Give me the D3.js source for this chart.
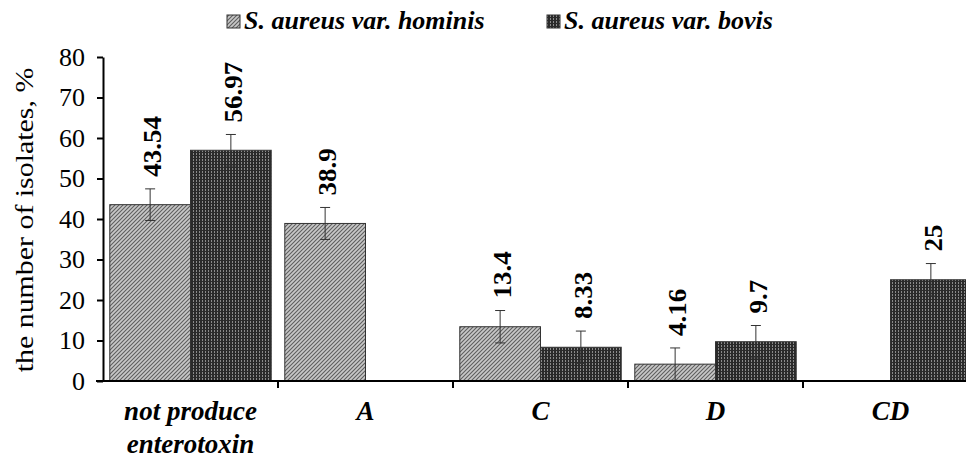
<!DOCTYPE html>
<html>
<head>
<meta charset="utf-8">
<script src="https://cdn.jsdelivr.net/npm/d3@7"></script>
<style>
  html, body { margin: 0; padding: 0; background: #fff; }
  svg { display: block; }
</style>
</head>
<body>
<svg id="chart" width="966" height="458"></svg>
<script>
const categories = ["not produce|enterotoxin", "A", "C", "D", "CD"];
const seriesNames = ["S. aureus var. hominis", "S. aureus var. bovis"];
const hominis = [43.54, 38.9, 13.4, 4.16, null];
const bovis = [56.97, null, 8.33, 9.7, 25];
const hominisErr = [3.9, 3.95, 4.0, 4.0, null];
const bovisErr = [3.9, null, 4.0, 4.0, 4.0];
const hominisLabels = ["43.54", "38.9", "13.4", "4.16", null];
const bovisLabels = ["56.97", null, "8.33", "9.7", "25"];
const yTicks = [0, 10, 20, 30, 40, 50, 60, 70, 80];

const FONT = '"Liberation Serif"';
const svg = d3.select("#chart");
const defs = svg.append("defs");

const p1 = defs.append("pattern").attr("id", "patH").attr("patternUnits", "userSpaceOnUse")
  .attr("width", 4).attr("height", 4);
p1.append("rect").attr("width", 4).attr("height", 4).attr("fill", "#c8c8c8");
p1.append("path").attr("d", "M0,4 L4,0 M-1,1 L1,-1 M3,5 L5,3").attr("stroke", "#5e5e5e").attr("stroke-width", 1.1);
const p2 = defs.append("pattern").attr("id", "patB").attr("patternUnits", "userSpaceOnUse")
  .attr("width", 3).attr("height", 3);
p2.append("rect").attr("width", 3).attr("height", 3).attr("fill", "#2a2a2a");
p2.append("rect").attr("x", 1).attr("y", 0).attr("width", 1).attr("height", 2).attr("fill", "#8a8a8a");

const x0 = 103, xEnd = 978;
const y = d3.scaleLinear().domain([0, 80]).range([381, 57]);
const x = d3.scaleBand().domain(categories).range([x0, xEnd]).paddingInner(0).paddingOuter(0);
const xs = d3.scaleBand().domain(seriesNames).range([0, x.bandwidth()]).paddingOuter(0.084).paddingInner(0);

const fills = ["url(#patH)", "url(#patB)"];
const vals = [hominis, bovis];
const errs = [hominisErr, bovisErr];
const labs = [hominisLabels, bovisLabels];

seriesNames.forEach((s, si) => {
  const g = svg.append("g");
  categories.forEach((c, ci) => {
    const v = vals[si][ci];
    if (v == null) return;
    const bx = x(c) + xs(s);
    const bw = xs.bandwidth();
    g.append("rect").attr("x", bx).attr("y", y(v)).attr("width", bw).attr("height", y(0) - y(v))
      .attr("fill", fills[si]).attr("stroke", "#333").attr("stroke-width", 1);
    const e = errs[si][ci];
    const cx = bx + bw / 2;
    const top = y(v + e), bot = y(Math.max(0, v - e));
    g.append("line").attr("x1", cx).attr("x2", cx).attr("y1", top).attr("y2", bot).attr("stroke", "#333").attr("stroke-width", 1);
    g.append("line").attr("x1", cx - 5).attr("x2", cx + 5).attr("y1", top).attr("y2", top).attr("stroke", "#333").attr("stroke-width", 1);
    g.append("line").attr("x1", cx - 5).attr("x2", cx + 5).attr("y1", bot).attr("y2", bot).attr("stroke", "#333").attr("stroke-width", 1);
    const lx = cx + 11, ly = top - 12;
    g.append("text").attr("transform", `translate(${lx},${ly}) rotate(-90) scale(1.04,1)`)
      .attr("text-anchor", "start").attr("font-size", 26).attr("font-weight", "bold")
      .style("font-family", FONT)
      .text(labs[si][ci]);
  });
});

const yAxis = d3.axisLeft(y).tickValues(yTicks).tickSize(6).tickPadding(12).tickSizeOuter(0);
const ya = svg.append("g").attr("transform", `translate(${x0},0)`).call(yAxis);
ya.select(".domain").attr("stroke", "#000").attr("stroke-width", 2);
ya.selectAll(".tick line").attr("stroke", "#000").attr("stroke-width", 2);
ya.selectAll(".tick text").attr("font-size", 26).style("font-family", FONT).attr("fill", "#000");

svg.append("line").attr("x1", 96).attr("x2", 966).attr("y1", y(0)).attr("y2", y(0)).attr("stroke", "#000").attr("stroke-width", 2);
const boundaries = categories.map(c => x(c)).concat([x(categories[categories.length - 1]) + x.bandwidth()]);
svg.append("g").selectAll("line").data(boundaries.slice(1)).join("line")
  .attr("x1", d => d).attr("x2", d => d).attr("y1", y(0)).attr("y2", y(0) + 7)
  .attr("stroke", "#000").attr("stroke-width", 2);

categories.forEach(c => {
  const lines = c.split("|");
  const t = svg.append("text").attr("x", x(c) + x.bandwidth() / 2).attr("y", 420)
    .attr("text-anchor", "middle").attr("font-size", 27).attr("font-style", "italic").attr("font-weight", "bold")
    .style("font-family", FONT);
  lines.forEach((l, i) => t.append("tspan").attr("x", x(c) + x.bandwidth() / 2).attr("dy", i === 0 ? 0 : 33).text(l));
});

svg.append("text").attr("transform", "translate(33,220) rotate(-90) scale(1.15,1)").attr("text-anchor", "middle")
  .attr("font-size", 26).style("font-family", FONT).text("the number of isolates, %");

const legendX = [227, 547];
seriesNames.forEach((s, i) => {
  svg.append("rect").attr("x", legendX[i]).attr("y", 15).attr("width", 13).attr("height", 13)
    .attr("fill", fills[i]).attr("stroke", "#333").attr("stroke-width", 1);
  svg.append("text").attr("x", legendX[i] + 17).attr("y", 29).attr("font-size", 26)
    .attr("font-style", "italic").attr("font-weight", "bold").style("font-family", FONT).text(s);
});
</script>
</body>
</html>
